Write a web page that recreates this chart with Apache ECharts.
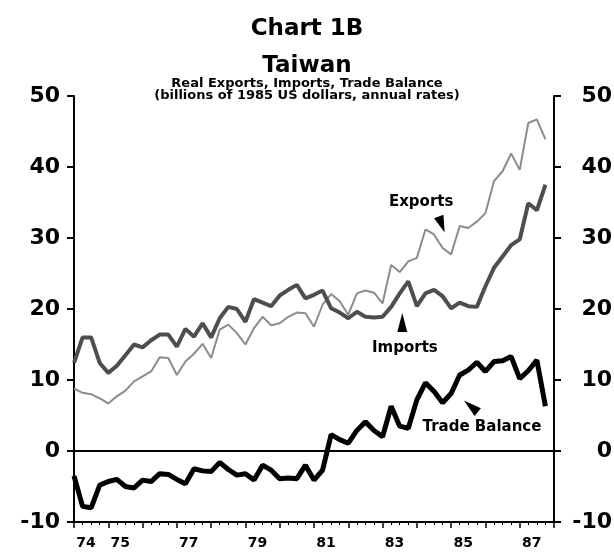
<!DOCTYPE html>
<html>
<head>
<meta charset="utf-8">
<script src="https://cdn.jsdelivr.net/npm/echarts@6/dist/echarts.min.js"></script>
<style>
  html, body { margin: 0; padding: 0; background: #fff; }
  #main { width: 614px; height: 552px; }
</style>
</head>
<body>
<div id="main"></div>
<script>
// quarterly data, 1974Q1 .. 1987Q4 (index 0 = 1974Q1)
const startYear = 1974;
const exportsData = [8.8, 8.2, 8.0, 7.4, 6.7, 7.7, 8.5, 9.8, 10.5, 11.2, 13.2, 13.1, 10.7, 12.6, 13.7, 15.1,
  13.1, 17.1, 17.8, 16.6, 15.0, 17.3, 18.9, 17.7, 18.0, 18.9, 19.5, 19.4, 17.5, 20.6, 22.1, 21.1,
  19.2, 22.2, 22.6, 22.3, 20.8, 26.2, 25.2, 26.7, 27.2, 31.2, 30.5, 28.6, 27.7, 31.7, 31.4, 32.3,
  33.5, 38.0, 39.4, 41.9, 39.6, 46.2, 46.7, 43.9];
const importsData = [12.4, 16.0, 16.0, 12.4, 11.0, 12.0, 13.5, 15.0, 14.6, 15.6, 16.4, 16.4, 14.7, 17.2, 16.1, 18.0,
  16.0, 18.7, 20.3, 20.0, 18.2, 21.4, 20.9, 20.4, 21.9, 22.7, 23.4, 21.5, 22.0, 22.6, 20.1, 19.5,
  18.7, 19.6, 18.9, 18.8, 18.9, 20.3, 22.2, 23.9, 20.4, 22.2, 22.7, 21.8, 20.1, 20.9, 20.4, 20.3,
  23.2, 25.8, 27.4, 29.0, 29.8, 34.9, 33.9, 37.5];
const balanceData = [-3.5, -7.8, -8.0, -4.8, -4.3, -4.0, -5.0, -5.2, -4.1, -4.3, -3.2, -3.3, -4.0, -4.6, -2.5, -2.8,
  -2.9, -1.6, -2.6, -3.4, -3.2, -4.1, -2.0, -2.7, -3.9, -3.8, -3.9, -2.0, -4.1, -2.7, 2.3, 1.6,
  1.1, 2.9, 4.1, 2.9, 2.0, 6.3, 3.5, 3.2, 7.2, 9.6, 8.4, 6.8, 8.1, 10.7, 11.4, 12.5,
  11.2, 12.6, 12.7, 13.3, 10.2, 11.3, 12.8, 6.3];

const yearLabels = ['74', '75', '77', '79', '81', '83', '85', '87'];
const yTicks = [-10, 0, 10, 20, 30, 40, 50];

// label sits a little after the start of its year
const labelShift = 1.4;
const labelPos = yearLabels.map(y => (Number('19' + y) - startYear) * 4 + labelShift);

const pairs = arr => arr.map((v, i) => [i, v]);

const boldFont = { fontFamily: 'DejaVu Sans', fontWeight: 'bold', color: '#000' };

function yAxisFor(pos) {
  return {
    type: 'value',
    position: pos,
    min: yTicks[0],
    max: yTicks[yTicks.length - 1],
    interval: 10,
    axisLine: { show: true, onZero: false, lineStyle: { color: '#000', width: 2 } },
    axisTick: { show: true, length: 7, lineStyle: { color: '#000', width: 2 } },
    splitLine: { show: false },
    axisLabel: Object.assign({
      fontSize: 22,
      margin: pos === 'left' ? 14 : 58,
      align: 'right'
    }, boldFont)
  };
}

function note(coord, text) {
  return {
    coord: coord, symbol: 'rect', symbolSize: 1,
    itemStyle: { color: 'transparent' },
    label: Object.assign({ show: true, position: 'inside', formatter: text, fontSize: 15 }, boldFont)
  };
}

function arrow(coord, rot, size) {
  return {
    coord: coord, symbol: 'triangle', symbolSize: size, symbolRotate: rot,
    itemStyle: { color: '#000' }, label: { show: false }
  };
}

const chart = echarts.init(document.getElementById('main'));

chart.setOption({
  animation: false,
  backgroundColor: '#fff',
  title: [
    { text: 'Chart 1B', left: 'center', top: 12,
      textStyle: Object.assign({ fontSize: 23, lineHeight: 24 }, boldFont) },
    { text: 'Taiwan', left: 'center', top: 49,
      textStyle: Object.assign({ fontSize: 23, lineHeight: 24 }, boldFont) },
    { text: 'Real Exports, Imports, Trade Balance\n(billions of 1985 US dollars, annual rates)',
      left: 'center', top: 78, padding: 0,
      textStyle: Object.assign({ fontSize: 13, lineHeight: 12, align: 'center' }, boldFont) }
  ],
  grid: { left: 74, right: 60, top: 96, bottom: 30, containLabel: false, outerBoundsMode: 'none' },
  xAxis: {
    type: 'value',
    min: 0,
    max: 56,
    interval: 4,
    axisLine: { show: true, onZero: false, lineStyle: { color: '#000', width: 2 } },
    axisTick: { show: true, inside: false, length: 6, lineStyle: { color: '#000', width: 1.5 } },
    minorTick: { show: true, splitNumber: 4, length: 3, lineStyle: { color: '#000', width: 1 } },
    splitLine: { show: false },
    minorSplitLine: { show: false },
    axisLabel: Object.assign({
      fontSize: 14,
      margin: 14,
      customValues: labelPos,
      formatter: v => yearLabels[labelPos.findIndex(p => Math.abs(p - v) < 0.01)]
    }, boldFont)
  },
  yAxis: [yAxisFor('left'), yAxisFor('right')],
  series: [
    {
      name: 'Exports', type: 'line', data: pairs(exportsData),
      symbol: 'none', z: 2,
      lineStyle: { color: '#8c8c8c', width: 2 },
      markPoint: {
        silent: true,
        data: [note([40.5, 35.1], 'Exports'), arrow([42.9, 31.9], 200, [10, 17])]
      }
    },
    {
      name: 'Imports', type: 'line', data: pairs(importsData),
      symbol: 'none', z: 3,
      lineStyle: { color: '#4e4e4e', width: 4 },
      markPoint: {
        silent: true,
        data: [note([38.6, 14.5], 'Imports'), arrow([38.3, 18.1], 0, [10, 19])]
      }
    },
    {
      name: 'Trade Balance', type: 'line', data: pairs(balanceData),
      symbol: 'none', z: 4,
      lineStyle: { color: '#000', width: 5 },
      markLine: {
        silent: true, symbol: 'none', label: { show: false },
        lineStyle: { color: '#000', width: 2, type: 'solid' },
        data: [{ yAxis: 0 }]
      },
      markPoint: {
        silent: true,
        data: [note([47.6, 3.4], 'Trade Balance'), arrow([46.3, 6.3], 50, [10, 18])]
      }
    }
  ]
});
</script>
</body>
</html>
